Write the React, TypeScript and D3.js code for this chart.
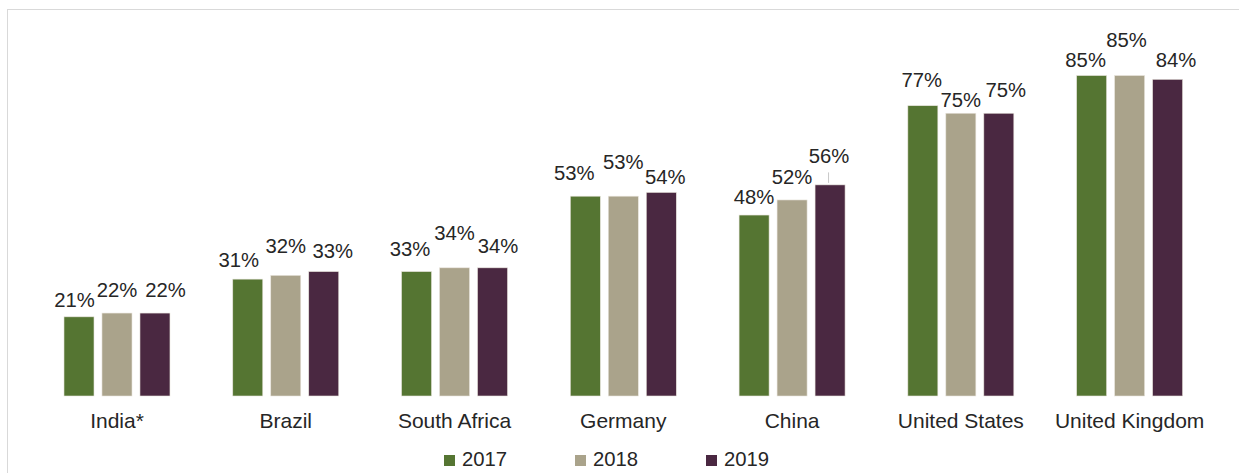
import React from "react";
import * as d3 from "d3";

const categories = ["India*", "Brazil", "South Africa", "Germany", "China", "United States", "United Kingdom"];
const years = ["2017", "2018", "2019"];
const values2017 = [21, 31, 33, 53, 48, 77, 85];
const values2018 = [22, 32, 34, 53, 52, 75, 85];
const values2019 = [22, 33, 34, 54, 56, 75, 84];
const seriesValues = [values2017, values2018, values2019];
const colors = ["#557532", "#aaa38b", "#4a2841"];

// manual label placement tweaks (dx, dy) per series per category, mimicking the original layout
const labelNudges: [number, number][][] = [
  [[-4.5, 1], [-9, -1], [-6.5, -5], [-11, -5], [0, 0], [-1, -8], [-6, 2]],
  [[0, -5], [0, -11], [0, -17], [0, -16], [0, -5], [0, 5], [-3, -18]],
  [[10.5, -5], [9, -3], [5.5, -4], [4, 3], [-1, -11], [7, -5], [8.5, -1]],
];
// which labels show a leader line (series index, category index)
const leaderLines: [number, number][] = [[2, 4]];

const W = 1239;
const H = 473;
const FONT = "'Liberation Sans', Arial, sans-serif";

export default function App() {
  const x0 = d3
    .scaleBand<string>()
    .domain(categories)
    .range([32.6, 1214])
    .paddingInner(0.372)
    .paddingOuter(0.186);
  const x1 = d3
    .scaleBand<string>()
    .domain(years)
    .range([0, x0.bandwidth()])
    .paddingInner(0.21)
    .paddingOuter(0);
  const y = d3.scaleLinear().domain([0, 100]).range([396, 19]);

  const legendX = d3.scalePoint<string>().domain(years).range([444, 706]);

  return (
    <svg
      width={W}
      height={H}
      style={{ position: "absolute", left: 0, top: 0, display: "block", background: "#fff" }}
      fontFamily={FONT}
    >
      <rect x={7.5} y={9.5} width={1260} height={500} fill="#fff" stroke="#d9d9d9" strokeWidth={1} />
      {categories.map((c, ci) => (
        <g key={c}>
          {years.map((yr, si) => {
            const v = seriesValues[si][ci];
            const bx = (x0(c) ?? 0) + (x1(yr) ?? 0);
            const bw = x1.bandwidth();
            const top = y(v);
            const [dx, dy] = labelNudges[si][ci];
            const lx = bx + bw / 2 + dx;
            const ly = top - 11 + dy;
            const needsLeader = leaderLines.some(([s, k]) => s === si && k === ci);
            return (
              <g key={yr}>
                <rect
                  x={bx}
                  y={top}
                  width={bw}
                  height={y(0) - top}
                  fill={colors[si]}
                  stroke="#e8e4dc"
                  strokeWidth={0.6}
                />
                {needsLeader && (
                  <line
                    x1={bx + bw / 2 - 1.5}
                    x2={bx + bw / 2 - 1.5}
                    y1={ly + 9.5}
                    y2={top - 2}
                    stroke="#c8c8c8"
                    strokeWidth={1}
                  />
                )}
                <text x={lx} y={ly} textAnchor="middle" fontSize={20.3} fill="#262626">
                  {v}%
                </text>
              </g>
            );
          })}
          <text
            x={(x0(c) ?? 0) + x0.bandwidth() / 2}
            y={428}
            textAnchor="middle"
            fontSize={21}
            fill="#262626"
          >
            {c}
          </text>
        </g>
      ))}
      {years.map((yr, si) => (
        <g key={yr} transform={`translate(${legendX(yr)},0)`}>
          <rect x={0} y={455} width={11} height={11} fill={colors[si]} />
          <text x={18} y={466} fontSize={20.3} fill="#262626">
            {yr}
          </text>
        </g>
      ))}
    </svg>
  );
}
